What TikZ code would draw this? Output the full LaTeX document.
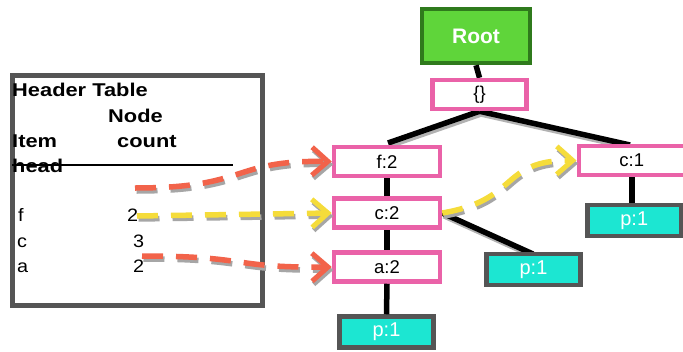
\documentclass[tikz,border=0pt]{standalone}
\usepackage{fontspec}
\setmainfont{Liberation Sans}
\usetikzlibrary{arrows.meta}
\definecolor{pinkb}{HTML}{EA62A8}
\definecolor{tealf}{HTML}{1CE6D2}
\definecolor{grayb}{HTML}{555555}
\definecolor{greenf}{HTML}{5FD53A}
\definecolor{greenb}{HTML}{2F7A1C}
\definecolor{redd}{HTML}{F2634A}
\definecolor{yelld}{HTML}{F5DC3A}
\begin{document}
\begin{tikzpicture}[x=1pt,y=-1pt,
  txt/.style={font=\fontsize{18}{20}\selectfont, inner sep=0pt, anchor=base west, xscale=1.1},
  htxt/.style={font=\bfseries\fontsize{18.5}{20}\selectfont, inner sep=0pt, anchor=base west, xscale=1.18},
  pinkbox/.style={draw=pinkb, line width=4.5pt, fill=white, minimum width=106pt, minimum height=29pt, inner sep=0pt, font=\fontsize{18.5}{20}\selectfont},
  pbox/.style={draw=grayb, line width=4.5pt, fill=tealf, minimum width=94pt, minimum height=31pt, inner sep=0pt, text=white, font=\fontsize{20}{22}\selectfont},
  tline/.style={line width=5.5pt, black},
  dsh/.style={line width=5.5pt, dash pattern=on 21pt off 13pt},
  arr/.style={-{Straight Barb[length=16pt,width=28pt,line width=5pt]}},
  shadow/.style={gray!70, line width=5.5pt, dash pattern=on 21pt off 13pt, transform canvas={shift={(1.5pt,-3pt)}}}
]
\useasboundingbox (0,0) rectangle (683,351);
\fill[white] (0,0) rectangle (683,351);
% header table
\node[draw=grayb, line width=5pt, minimum width=250pt, minimum height=230pt, inner sep=0pt, anchor=north west] (ht) at (9.5,72.5) {};
\node[htxt] (h1) at (12,96) {Header Table};
\node[htxt] (h2) at (108,122) {Node};
\node[htxt] (h3) at (12,147) {Item};
\node[htxt] (h4) at (117,147) {count};
\node[htxt] (h5) at (12,172) {head};
\coordinate (sl) at (12,165);
\coordinate (sr) at (233,165);
\draw[line width=1.3pt] (sl) -- (sr);
\node[txt] (if) at (18,221) {f};
\node[txt] (ic) at (17,247) {c};
\node[txt] (ia) at (17,272) {a};
\node[txt] (cf) at (127,221) {2};
\node[txt] (cc) at (133,247) {3};
\node[txt] (ca) at (133,272) {2};
% tree
\node[draw=greenb, line width=4.5pt, fill=greenf, minimum width=108pt, minimum height=54pt, inner sep=0pt, text=white, font=\bfseries\fontsize{21}{22}\selectfont] (root) at (476,36) {Root};
\node[pinkbox, minimum width=94pt] (e) at (479.5,94.5) {\{\}};
\node[pinkbox] (f2) at (387,161.5) {f:2};
\node[pinkbox] (c2) at (387,213) {c:2};
\node[pinkbox] (a2) at (387,267) {a:2};
\node[pinkbox, anchor=west] (c1) at (576.5,160.5) {c:1};
\node[pbox] (p1) at (386.5,332) {p:1};
\node[pbox] (p2) at (533.5,269.5) {p:1};
\node[pbox, anchor=west] (p3) at (585,220.5) {p:1};
% shadows of tree lines
\begin{scope}[gray!60, line width=5pt, transform canvas={shift={(1.5pt,-3pt)}}]
\draw (e.south) -- (388,143);
\draw (e.south) -- (630,145);
\draw (c2.east) -- (533,254);
\end{scope}
\draw[tline] (root.south) -- (e.north);
\draw[tline] (e.south) -- (388,143);
\draw[tline] (e.south) -- (630,145);
\draw[tline] (f2.south) -- (c2.north);
\draw[tline] (c2.south) -- (a2.north);
\draw[tline] (a2.south) -- (p1.north);
\draw[tline] (c2.east) -- (533,254);
\draw[tline] (c1.south -| 632,0) -- (p3.north -| 632,0);
\node[pinkbox] at (f2) {f:2};
\node[pinkbox] at (c2) {c:2};
\node[pinkbox, minimum width=94pt] at (e) {\{\}};
\node[pinkbox, anchor=west] at (576.5,160.5) {c:1};
\node[pbox] at (p2) {p:1};
\node[pbox, anchor=west] at (585,220.5) {p:1};
% dashed arrows
\coordinate (s1) at (135,188);
\coordinate (s2) at (137,216);
\coordinate (s3) at (142,256);
\draw[shadow, arr] (s1) .. controls (250,188) and (230,160) .. (f2.west);
\draw[shadow, arr] (s2) -- (c2.west);
\draw[shadow, arr] (s3) .. controls (250,256) and (230,268) .. (a2.west);
\draw[shadow, arr] (c2.east) .. controls (520,200) and (500,160) .. (c1.west);
\draw[dsh, redd, arr] (s1) .. controls (250,188) and (230,160) .. (f2.west);
\draw[dsh, yelld, arr] (s2) -- (c2.west);
\draw[dsh, redd, arr] (s3) .. controls (250,256) and (230,268) .. (a2.west);
\draw[dsh, yelld, arr] (c2.east) .. controls (520,200) and (500,160) .. (c1.west);
\end{tikzpicture}
\end{document}
